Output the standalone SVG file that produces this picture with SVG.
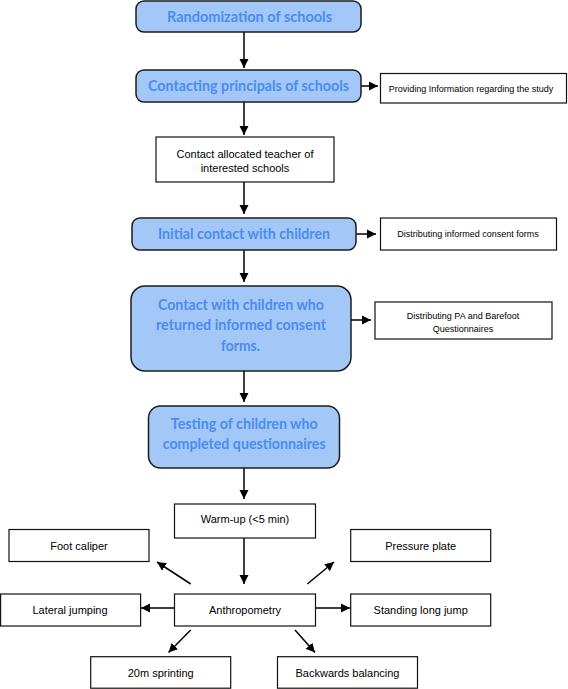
<svg xmlns="http://www.w3.org/2000/svg" width="568" height="689" viewBox="0 0 568 689">
<style>
.blue{fill:#a3c8f7;stroke:#1c1c1c;stroke-width:1.5}
.white{fill:#fff;stroke:#111;stroke-width:1.2}
.bt{font-family:Lato,"Open Sans",sans-serif;font-weight:bold;font-size:15.5px;fill:#4a8cf0;text-anchor:middle}
.wt{font-family:"Liberation Sans",Arial,sans-serif;font-size:11px;fill:#000;text-anchor:middle}
.st{font-family:"Liberation Sans",Arial,sans-serif;font-size:9px;fill:#000;text-anchor:middle}
.c{stroke:#000;stroke-width:1.5;fill:none;marker-end:url(#ah)}
</style>
<defs>
<marker id="ah" markerUnits="userSpaceOnUse" markerWidth="10" markerHeight="10" refX="9" refY="5" orient="auto">
<path d="M0,0.5 L9,5 L0,9.5 Z" fill="#000"/>
</marker>
</defs>
<rect width="568" height="689" fill="#fff"/>
<g id="connectors">
<line class="c" x1="244" y1="32" x2="244" y2="68"/>
<line class="c" x1="244" y1="102" x2="244" y2="135"/>
<line class="c" x1="244" y1="182" x2="244" y2="214"/>
<line class="c" x1="244" y1="250" x2="244" y2="282"/>
<line class="c" x1="244" y1="371" x2="244" y2="402"/>
<line class="c" x1="244" y1="468" x2="244" y2="499"/>
<line class="c" x1="244" y1="538" x2="244" y2="584"/>
<line class="c" x1="361" y1="86" x2="378" y2="86"/>
<line class="c" x1="356" y1="234" x2="376" y2="234"/>
<line class="c" x1="351" y1="320" x2="371" y2="320"/>
<line class="c" x1="174" y1="608" x2="141" y2="608"/>
<line class="c" x1="315" y1="608" x2="350" y2="608"/>
<line class="c" x1="190.7" y1="584" x2="157" y2="562"/>
<line class="c" x1="307.3" y1="584" x2="334" y2="562"/>
<line class="c" x1="190.7" y1="630" x2="168.5" y2="652.5"/>
<line class="c" x1="295" y1="630" x2="315" y2="652.5"/>
</g>
<g id="n1"><rect class="blue" x="136" y="1" width="225" height="31" rx="8"/><text class="bt" x="249.5" y="21.5" textLength="165" lengthAdjust="spacingAndGlyphs">Randomization of schools</text></g>
<g id="n2"><rect class="blue" x="136" y="70" width="225" height="32" rx="8"/><text class="bt" x="248.5" y="90.5" textLength="201" lengthAdjust="spacingAndGlyphs">Contacting principals of schools</text></g>
<g id="n2b"><rect class="white" x="380.5" y="73.5" width="186" height="29.5"/><text class="st" x="471" y="91.5">Providing Information regarding the study</text></g>
<g id="n3"><rect class="white" x="156" y="137" width="178" height="45"/><text class="wt" x="245" y="157.5">Contact allocated teacher of</text><text class="wt" x="245" y="172">interested schools</text></g>
<g id="n4"><rect class="blue" x="132" y="218" width="224" height="32" rx="8"/><text class="bt" x="244" y="238.5" textLength="172" lengthAdjust="spacingAndGlyphs">Initial contact with children</text></g>
<g id="n4b"><rect class="white" x="380.5" y="218" width="176" height="32"/><text class="st" x="468" y="237">Distributing informed consent forms</text></g>
<g id="n5"><rect class="blue" x="131" y="286" width="220" height="85" rx="14"/><text class="bt" x="241" y="309.5" textLength="166" lengthAdjust="spacingAndGlyphs">Contact with children who</text><text class="bt" x="241" y="329.5" textLength="170" lengthAdjust="spacingAndGlyphs">returned informed consent</text><text class="bt" x="240.5" y="350.5" textLength="39" lengthAdjust="spacingAndGlyphs">forms.</text></g>
<g id="n5b"><rect class="white" x="375" y="302" width="177" height="37"/><text class="st" x="463" y="319">Distributing PA and Barefoot</text><text class="st" x="463" y="331.5">Questionnaires</text></g>
<g id="n6"><rect class="blue" x="148.5" y="406" width="191" height="62" rx="12"/><text class="bt" x="244.3" y="428.5" textLength="147" lengthAdjust="spacingAndGlyphs">Testing of children who</text><text class="bt" x="244.2" y="448.5" textLength="163" lengthAdjust="spacingAndGlyphs">completed questionnaires</text></g>
<g id="n7"><rect class="white" x="174.5" y="504" width="141" height="34"/><text class="wt" x="245" y="523">Warm-up (&lt;5 min)</text></g>
<g id="n8"><rect class="white" x="174.5" y="594" width="141" height="32"/><text class="wt" x="245" y="614">Anthropometry</text></g>
<g id="n9"><rect class="white" x="9" y="529.5" width="140" height="32"/><text class="wt" x="79" y="549.5">Foot caliper</text></g>
<g id="n10"><rect class="white" x="350.7" y="529.5" width="140" height="32"/><text class="wt" x="420.7" y="549.5">Pressure plate</text></g>
<g id="n11"><rect class="white" x="0.6" y="594" width="140" height="32"/><text class="wt" x="70" y="614">Lateral jumping</text></g>
<g id="n12"><rect class="white" x="350.7" y="594" width="140" height="32"/><text class="wt" x="420.7" y="614">Standing long jump</text></g>
<g id="n13"><rect class="white" x="90.7" y="656.7" width="140" height="31.5"/><text class="wt" x="160.7" y="676.5">20m sprinting</text></g>
<g id="n14"><rect class="white" x="277.5" y="656.7" width="140" height="31.5"/><text class="wt" x="347.5" y="676.5">Backwards balancing</text></g>
</svg>
